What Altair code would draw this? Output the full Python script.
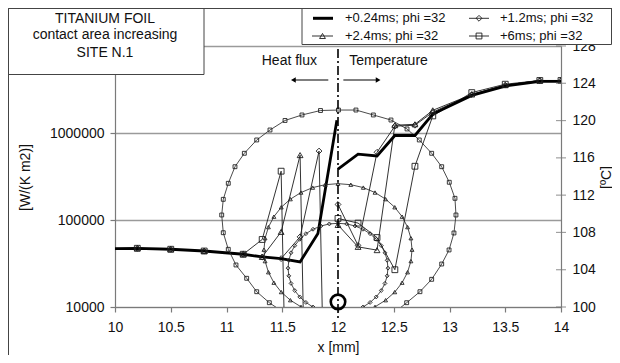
import altair as alt
import pandas as pd

# ---------------- data ----------------
# heat flux (left log axis), x in mm
hf_x_024 = [10.0, 10.2, 10.5, 10.8, 11.15, 11.32, 11.49, 11.66, 11.82, 11.99]
hf_q_024 = [47000, 47300, 46100, 44000, 40400, 37600, 36000, 33000, 70000, 1400000]
hf_x_12 = [10.2, 10.5, 10.8, 11.15, 11.32, 11.49, 11.66, 11.83, 12.0]
hf_q_12 = [47300, 46100, 44000, 40400, 37600, 36000, 64000, 620000, 1e-5]
hf_x_24 = [10.2, 10.5, 10.8, 11.15, 11.32, 11.49, 11.66, 11.83]
hf_q_24 = [47300, 46100, 44000, 40400, 37600, 73000, 557000, 1e-5]
hf_x_6 = [10.2, 10.5, 10.8, 11.15, 11.32, 11.49, 11.66]
hf_q_6 = [47300, 46100, 44000, 40400, 59700, 364000, 1e-5]

# temperature (right axis)
t_x = [12.0, 12.18, 12.35, 12.51, 12.69, 12.85, 13.2, 13.5, 13.81, 14.0]
t_024 = [114.8, 116.4, 116.2, 118.4, 118.4, 120.7, 122.7, 123.7, 124.2, 124.2]
t_12 = [111.0, 106.6, 116.6, 119.4, 119.5, 120.9, 122.8, 123.8, 124.3, 124.3]
t_24 = [108.8, 106.45, 106.1, 119.5, 119.6, 121.1, 122.8, 123.8, 124.3, 124.3]
t_6 = [109.5, 109.0, 107.45, 104.0, 115.1, 120.5, 123.0, 123.9, 124.3, 124.3]

# contact-area circles (right axis)
sq_x = [11.507, 11.384, 11.271, 11.181, 11.085, 11.016, 10.971, 10.957, 10.971, 11.016,
        11.076, 11.160, 11.271, 11.390, 11.525, 11.677, 11.843, 12.004, 12.161, 12.317,
        12.475, 12.619, 12.729, 12.840, 12.930, 12.998, 13.049, 13.058, 13.040, 12.996,
        12.930, 12.840, 12.735, 12.616, 12.511]
sq_t = [99.46, 100.46, 101.64, 103.08, 104.51, 106.19, 107.97, 109.87, 111.55, 113.27,
        115.05, 116.49, 117.92, 118.99, 120.01, 120.60, 121.08, 121.13, 121.13, 120.60,
        120.06, 119.10, 117.92, 116.49, 115.05, 113.38, 111.66, 109.87, 107.94, 106.12,
        104.61, 102.97, 101.64, 100.46, 99.46]
tri_x = [12.227, 12.332, 12.427, 12.509, 12.575, 12.624, 12.654, 12.664, 12.654, 12.624,
         12.575, 12.509, 12.427, 12.332, 12.227, 12.115, 12.0, 11.885, 11.773, 11.668,
         11.573, 11.491, 11.425, 11.376, 11.346, 11.336, 11.346, 11.376, 11.425, 11.491,
         11.573, 11.668, 11.773]
tri_t = [99.50, 100.02, 100.73, 101.60, 102.61, 103.73, 104.92, 106.15, 107.38, 108.57,
         109.69, 110.70, 111.57, 112.28, 112.81, 113.12, 113.23, 113.12, 112.81, 112.28,
         111.57, 110.70, 109.69, 108.57, 107.38, 106.15, 104.92, 103.73, 102.61, 101.60,
         100.73, 100.02, 99.50]
dia_x = [12.153, 12.224, 12.288, 12.343, 12.388, 12.421, 12.441, 12.448, 12.441, 12.421,
         12.388, 12.343, 12.288, 12.224, 12.153, 12.078, 12.0, 11.922, 11.847, 11.776,
         11.712, 11.657, 11.612, 11.579, 11.559, 11.552, 11.559, 11.579, 11.612, 11.657,
         11.712, 11.776, 11.847]
dia_t = [99.65, 100.00, 100.49, 101.08, 101.77, 102.53, 103.34, 104.17, 105.01, 105.82,
         106.58, 107.26, 107.86, 108.34, 108.69, 108.91, 108.98, 108.91, 108.69, 108.34,
         107.86, 107.26, 106.58, 105.82, 105.01, 104.17, 103.34, 102.53, 101.77, 101.08,
         100.49, 100.00, 99.65]
circ024_x = [12.0]
circ024_t = [100.55]

x_ticks = [10, 10.5, 11, 11.5, 12, 12.5, 13, 13.5, 14]
q_ticks = [10000, 100000, 1000000, 10000000]
t_ticks = [100, 104, 108, 112, 116, 120, 124, 128]

series_names = ["+0.24ms; phi =32", "+1.2ms; phi =32", "+2.4ms; phi =32", "+6ms; phi =32"]
title_lines = ["TITANIUM FOIL", "contact area increasing", "SITE N.1"]

# annotations in data units
dash_x, dash_top, dash_bottom = 12.0, 127.67, 98.8
arrow_t = 124.35
arrow_left = (11.913, 11.60)
arrow_right = (12.048, 12.36)
label_t = 126.35
heat_x, temp_x = 11.316, 12.101

# ---------------- chart ----------------
FONT = "Liberation Sans"
INK = "#1c1c1c"
W, H = 446, 261


def sdf(name, xs, ys):
    return pd.DataFrame({"series": name, "i": list(range(len(xs))), "x": xs, "v": ys})


hf_thin = pd.concat([sdf("d12", hf_x_12, hf_q_12), sdf("t24", hf_x_24, hf_q_24), sdf("s6", hf_x_6, hf_q_6)])
hf_thick = sdf("th", hf_x_024, hf_q_024)
t_thin = pd.concat([sdf("d12", t_x, t_12), sdf("t24", t_x, t_24), sdf("s6", t_x, t_6)])
t_thick = sdf("th", t_x, t_024)
ell = pd.concat([sdf("s6", sq_x, sq_t), sdf("t24", tri_x, tri_t), sdf("d12", dia_x, dia_t)])

xscale = alt.Scale(domain=[10, 14], nice=False, zero=False)
qscale = alt.Scale(type="log", domain=[1e4, 1e7], nice=False)
tscale = alt.Scale(domain=[100, 128], nice=False, zero=False)
shape_scale = alt.Scale(domain=["d12", "t24", "s6"], range=["diamond", "triangle-up", "square"])

xaxis = alt.Axis(values=x_ticks, format="~g", title="x [mm]", grid=False, tickSize=5,
                 labelPadding=8, labelFlush=False, labelOverlap=False,
                 titleX=223, titleY=40, titleAlign="center", titleBaseline="middle")
laxis = alt.Axis(orient="left", values=q_ticks, format="d", title="[W/(K m2)]", grid=True,
                 labelExpr="datum.value >= 5000000 ? '' : datum.label",
                 gridColor="#9a9a9a", gridWidth=1.3, tickSize=5, labelPadding=6,
                 titleAngle=270, titleX=-90, titleY=131, titleAlign="center", titleBaseline="middle")
raxis = alt.Axis(orient="right", values=t_ticks, title="[ºC]", grid=False, ticks=False,
                 labelPadding=11, titleAngle=270, titleX=45, titleY=131,
                 titleAlign="center", titleBaseline="middle")

X = alt.X("x:Q", scale=xscale, axis=xaxis)
YQ = alt.Y("v:Q", scale=qscale, axis=laxis)
YT = alt.Y("v:Q", scale=tscale, axis=raxis)
SH = alt.Shape("series:N", scale=shape_scale, legend=None)

# left (heat flux)
hf_lines = alt.Chart(hf_thin).mark_line(clip=True, color=INK, strokeWidth=0.9).encode(
    x=X, y=YQ, detail="series:N", order="i:Q")
hf_bold = alt.Chart(hf_thick).mark_line(clip=True, color="black", strokeWidth=2.8).encode(
    x=X, y=YQ, order="i:Q")
hf_pts = alt.Chart(hf_thin).mark_point(clip=True, color=INK, strokeWidth=0.9, size=34, opacity=1).encode(
    x=X, y=YQ, shape=SH)
left = alt.layer(hf_lines, hf_bold, hf_pts)

# right (temperature)
ell_lines = alt.Chart(ell).mark_line(clip=True, color="#2a2a2a", strokeWidth=0.85).encode(
    x=X, y=YT, detail="series:N", order="i:Q")
ell_pts = alt.Chart(ell).mark_point(clip=True, color="#222", strokeWidth=0.9, size=15, opacity=1).encode(
    x=X, y=YT, shape=SH)
t_lines = alt.Chart(t_thin).mark_line(clip=True, color=INK, strokeWidth=0.9).encode(
    x=X, y=YT, detail="series:N", order="i:Q")
t_bold = alt.Chart(t_thick).mark_line(clip=True, color="black", strokeWidth=2.8).encode(
    x=X, y=YT, order="i:Q")
t_pts = alt.Chart(t_thin).mark_point(clip=True, color=INK, strokeWidth=0.9, size=34, opacity=1).encode(
    x=X, y=YT, shape=SH)

dash = alt.Chart(pd.DataFrame({"x": [dash_x], "v": [dash_top], "v2": [dash_bottom]})).mark_rule(
    color="black", strokeWidth=1.6, strokeDash=[9, 3, 2, 3]).encode(x=X, y=YT, y2="v2:Q")
circ = alt.Chart(pd.DataFrame({"x": circ024_x, "v": circ024_t})).mark_point(
    shape="circle", size=210, color="black", strokeWidth=2.6, opacity=1).encode(x=X, y=YT)

arr = pd.DataFrame({"x": [arrow_left[0], arrow_right[0]], "x2": [arrow_left[1], arrow_right[1]],
                    "v": [arrow_t, arrow_t]})
arr_lines = alt.Chart(arr).mark_rule(color="black", strokeWidth=1.1).encode(x=X, x2="x2:Q", y=YT)
head_l = alt.Chart(pd.DataFrame({"x": [arrow_left[1]], "v": [arrow_t]})).mark_point(
    shape="triangle-left", filled=True, color="black", size=30, opacity=1).encode(x=X, y=YT)
head_r = alt.Chart(pd.DataFrame({"x": [arrow_right[1]], "v": [arrow_t]})).mark_point(
    shape="triangle-right", filled=True, color="black", size=30, opacity=1).encode(x=X, y=YT)
labels = alt.Chart(pd.DataFrame({"x": [heat_x, temp_x], "v": [label_t, label_t],
                                 "label": ["Heat flux", "Temperature"]})).mark_text(
    align="left", baseline="middle", font=FONT, fontSize=14, color="#111").encode(x=X, y=YT, text="label:N")
rticks = alt.Chart(pd.DataFrame({"x": [14] * len(t_ticks), "v": t_ticks})).mark_tick(
    orient="horizontal", size=10, thickness=1.2, color="#777").encode(x=X, y=YT)

dummy = pd.DataFrame({"a": [0]})


def rect(x1, x2, y1, y2):
    return alt.Chart(dummy).mark_rect(fill="white", stroke="#444", strokeWidth=1).encode(
        x=alt.value(x1), x2=alt.value(x2), y=alt.value(y1), y2=alt.value(y2))


def hline(x1, x2, y, w=1.0, color="#444"):
    return alt.Chart(dummy).mark_rule(color=color, strokeWidth=w).encode(
        x=alt.value(x1), x2=alt.value(x2), y=alt.value(y))


def txt(s, x, y, size=14, align="center"):
    return alt.Chart(dummy).mark_text(align=align, baseline="middle", font=FONT, fontSize=size,
                                      color="#111").encode(x=alt.value(x), y=alt.value(y), text=alt.value(s))


def sym(shape, x, y):
    return alt.Chart(dummy).mark_point(shape=shape, size=34, color=INK, strokeWidth=0.9, opacity=1).encode(
        x=alt.value(x), y=alt.value(y))


border_top = hline(-106.5, 497, -37.5)
border_left = alt.Chart(dummy).mark_rule(color="#444", strokeWidth=1).encode(
    x=alt.value(-106.5), y=alt.value(-37.5), y2=alt.value(320))
title_box = rect(-106.5, 89, -37.5, 28.5)
title_txt = [txt(title_lines[0], -10, -27.5), txt(title_lines[1], -10, -11), txt(title_lines[2], -10, 6.5)]
leg_box = rect(187, 496.5, -37.5, -1.5)
leg = [
    hline(198, 218, -27.7, w=3, color="black"),
    txt(series_names[0], 230, -27.7, size=13, align="left"),
    hline(354, 374, -27.7, w=0.9, color=INK), sym("diamond", 364, -27.7),
    txt(series_names[1], 385, -27.7, size=13, align="left"),
    hline(197, 218, -10, w=0.9, color=INK), sym("triangle-up", 207.5, -10),
    txt(series_names[2], 230, -10, size=13, align="left"),
    hline(354, 374, -10, w=0.9, color=INK), sym("square", 364, -10),
    txt(series_names[3], 385, -10, size=13, align="left"),
]

right = alt.layer(ell_lines, ell_pts, t_lines, t_bold, t_pts, dash, circ, arr_lines, head_l, head_r,
                  labels, rticks, title_box, *title_txt, leg_box, *leg, border_top, border_left)

chart = alt.layer(left, right).resolve_scale(y="independent", shape="shared").properties(
    width=W, height=H,
    padding={"left": 107, "top": 38, "right": 51, "bottom": 48},
    autosize=alt.AutoSizeParams(type="none"),
).configure_axis(
    labelFont=FONT, titleFont=FONT, labelFontSize=14, titleFontSize=14,
    labelColor="#111", titleColor="#111", titleFontWeight="normal",
    domainColor="#7a7a7a", tickColor="#7a7a7a", domainWidth=1.2, tickWidth=1.2,
).configure_view(stroke=None)

chart.save("out.html", embed_options={"renderer": "svg", "actions": False})
